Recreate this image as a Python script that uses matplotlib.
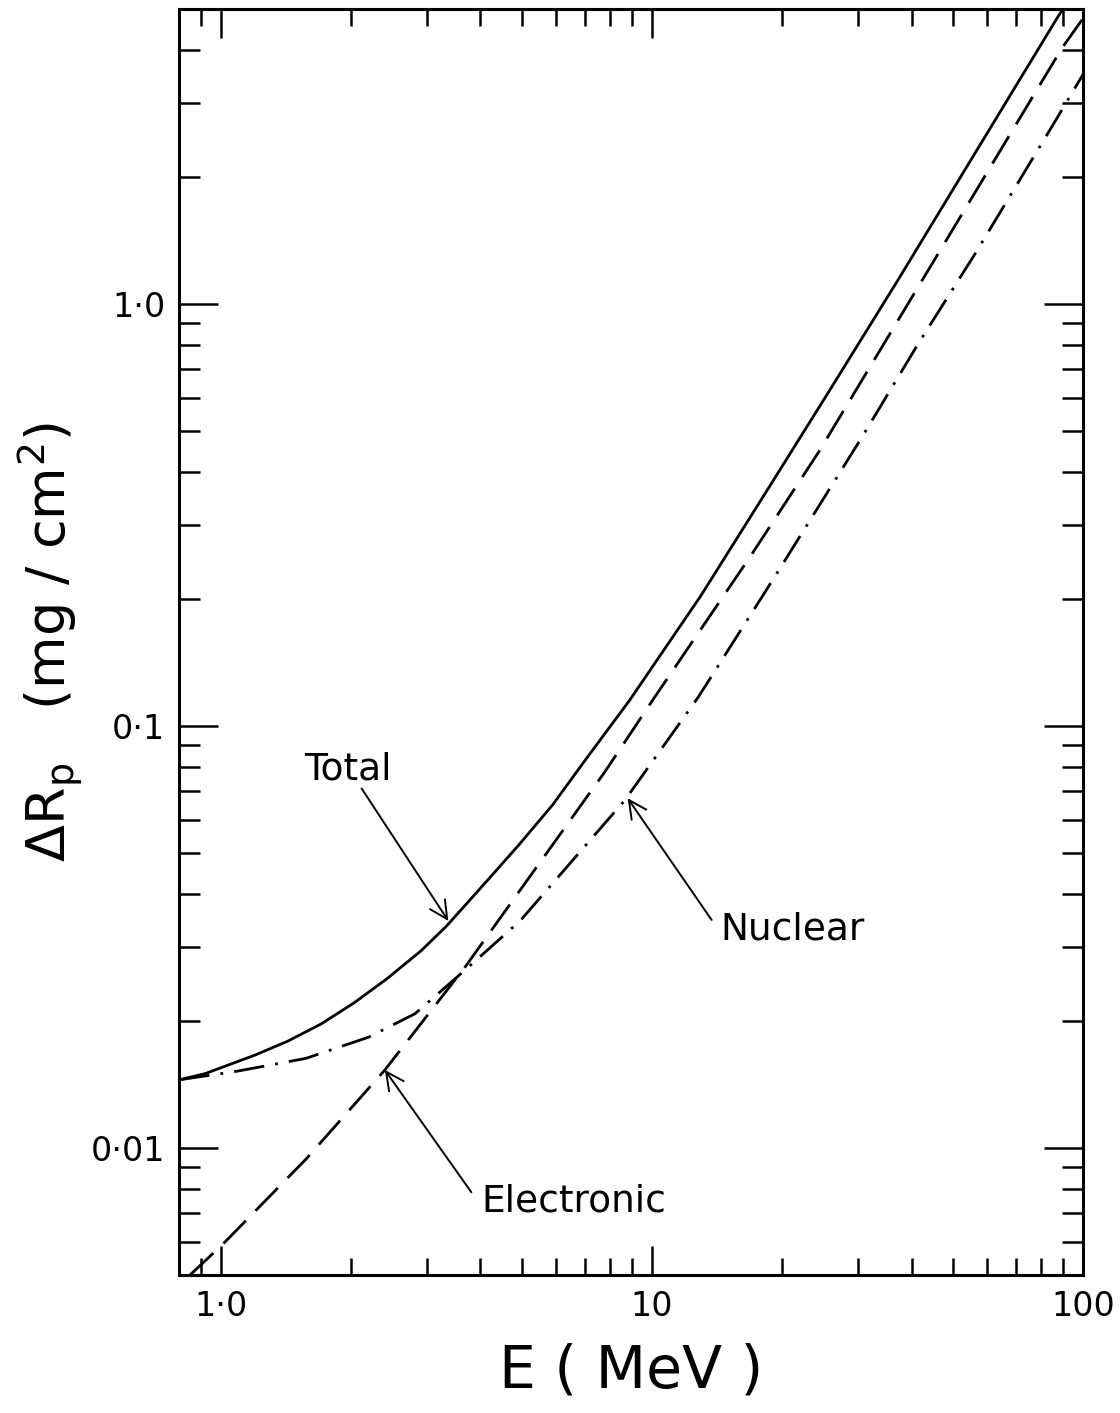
import numpy as np
import matplotlib
matplotlib.use('Agg')
import matplotlib.pyplot as plt
from matplotlib.ticker import LogLocator, NullFormatter

plt.rc('font', family='DejaVu Sans')
plt.rc('lines', scale_dashes=False)

# Values (E in MeV, range straggling in mg/cm^2)
e_total = [0.8, 0.919, 1.2, 1.428, 1.712, 2.04, 2.43, 2.91, 3.34, 4.13, 4.89, 5.88, 7.0,
           8.87, 12.96, 18.44, 26.1, 37.1, 87.5, 100]
dr_total = [0.0145, 0.0150, 0.0166, 0.0179, 0.0197, 0.0221, 0.0252, 0.0293, 0.0336, 0.0428,
            0.0520, 0.065, 0.083, 0.115, 0.203, 0.36, 0.635, 1.134, 4.80, 5.9]

e_elec = [0.848, 1.016, 1.574, 2.40, 3.70, 5.21, 7.77, 10.12, 16.9, 24.4, 89.5, 100]
dr_elec = [0.0050, 0.00595, 0.0094, 0.0153, 0.027, 0.044, 0.0778, 0.1166, 0.252, 0.447, 4.05, 4.75]

e_nucl = [0.8, 1.09, 1.574, 2.2, 2.82, 3.70, 4.94, 8.64, 12.8, 18.8, 30.6, 41.3, 56.3, 85.2, 100]
dr_nucl = [0.0145, 0.0152, 0.0163, 0.0183, 0.0208, 0.0265, 0.0345, 0.0666, 0.117, 0.217, 0.481,
           0.80, 1.32, 2.66, 3.5]

x_ticks = [1, 10, 100]
x_labels = ['1·0', '10', '100']
y_ticks = [0.01, 0.1, 1]
y_labels = ['0·01', '0·1', '1·0']

fig = plt.figure(figsize=(11.2, 14.13), dpi=100)
ax = fig.add_axes([0.160, 0.0977, 0.807, 0.8959])

ax.plot(e_total, dr_total, color='k', lw=2.0)
ax.plot(e_elec, dr_elec, color='k', lw=2.0, dashes=(23, 10))
ax.plot(e_nucl, dr_nucl, color='k', lw=2.0, dashes=(22, 8, 2, 8))

ax.set_xscale('log')
ax.set_yscale('log')
ax.set_xlim(0.8, 100)
ax.set_ylim(0.005, 5)

ax.set_xticks(x_ticks)
ax.set_xticklabels(x_labels)
ax.set_yticks(y_ticks)
ax.set_yticklabels(y_labels)
ax.xaxis.set_minor_locator(LogLocator(subs=np.arange(2, 10)))
ax.yaxis.set_minor_locator(LogLocator(subs=np.arange(2, 10)))
ax.xaxis.set_minor_formatter(NullFormatter())
ax.yaxis.set_minor_formatter(NullFormatter())

ax.tick_params(which='both', direction='in', top=True, right=True, width=1.8, labelsize=24)
ax.tick_params(axis='x', which='major', length=21, pad=11)
ax.tick_params(axis='x', which='minor', length=12)
ax.tick_params(axis='y', which='major', length=28, pad=10)
ax.tick_params(axis='y', which='minor', length=15)
for sp in ax.spines.values():
    sp.set_linewidth(2.2)

ax.set_xlabel('E ( MeV )', fontsize=42, labelpad=14)
ax.set_ylabel(r'$\Delta\mathrm{R}_\mathrm{p}$   (mg / cm$^2$)', fontsize=39, labelpad=4)

# labels with arrows
arrow = dict(arrowstyle='->', color='k', lw=1.4, mutation_scale=32, shrinkA=0, shrinkB=0)
ax.annotate('', xy=(3.37, 0.0345), xytext=(2.12, 0.0711), arrowprops=arrow)
ax.text(1.563, 0.0787, 'Total', fontsize=27, ha='left', va='center')
ax.annotate('', xy=(2.40, 0.0153), xytext=(3.81, 0.00785), arrowprops=arrow)
ax.text(4.02, 0.00745, 'Electronic', fontsize=27, ha='left', va='center')
ax.annotate('', xy=(8.78, 0.0674), xytext=(13.75, 0.0347), arrowprops=arrow)
ax.text(14.43, 0.0329, 'Nuclear', fontsize=27, ha='left', va='center')

fig.savefig('out.png', dpi=100)
